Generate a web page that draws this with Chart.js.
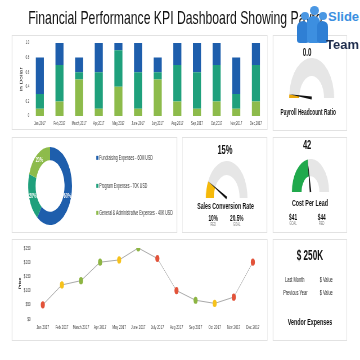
<!DOCTYPE html>
<html><head><meta charset="utf-8">
<script src="https://cdn.jsdelivr.net/npm/chart.js@4.4.1/dist/chart.umd.min.js"></script>
<style>
html,body{margin:0;padding:0;width:360px;height:360px;overflow:hidden;background:#fff;}
#stage{position:absolute;left:0;top:0;width:640px;height:360px;transform:scaleX(0.5625);transform-origin:0 0;font-family:"Liberation Sans",Arial,Helvetica,sans-serif;color:#111;}
.panel{position:absolute;box-sizing:border-box;border:1px solid #e2e2e2;background:#fff;}
.box{position:absolute;}
.t{position:absolute;white-space:nowrap;transform:translate(-50%,-50%);line-height:1;}
.b{font-weight:bold;}
.l{position:absolute;white-space:nowrap;transform:translateY(-50%);line-height:1;}
.sm{font-size:4.5px;color:#777;}
.lg{position:absolute;white-space:nowrap;transform:translateY(-50%);line-height:1;font-size:6.3px;color:#333;}
.lg i{display:inline-block;width:4px;height:4px;margin-right:1.5px;vertical-align:middle;position:relative;top:-0.5px;}
#logo{position:absolute;left:0;top:0;width:360px;height:60px;pointer-events:none;font-family:"Liberation Sans Narrow","Liberation Sans",Arial,sans-serif;}
#logo div{position:absolute;}
</style></head>
<body>
<div id="stage">
  <div id="title" class="l" style="left:50px;top:17px;font-size:19px;transform-origin:0 50%;">Financial Performance KPI Dashboard Showing Payroll Headcount Ratio</div>

  <div class="panel" style="left:21.3px;top:35px;width:455px;height:95px"></div>
  <div class="panel" style="left:485.3px;top:35px;width:131.6px;height:96px"></div>
  <div class="panel" style="left:21.3px;top:137px;width:293.4px;height:96px"></div>
  <div class="panel" style="left:323.6px;top:137px;width:151.1px;height:96px"></div>
  <div class="panel" style="left:485.3px;top:137px;width:131.6px;height:96px"></div>
  <div class="panel" style="left:21.3px;top:239px;width:455px;height:102px"></div>
  <div class="panel" style="left:485.3px;top:239px;width:131.6px;height:102px"></div>

  <div class="box" style="left:21.3px;top:35px;width:455px;height:95px"><canvas id="bar"></canvas></div>
  <div class="box" style="left:21.3px;top:239px;width:455px;height:102px"><canvas id="line"></canvas></div>
  <div class="box" style="left:50px;top:147px;width:78px;height:78px"><canvas id="donut"></canvas></div>
  <div class="box" style="left:513.8px;top:58px;width:80px;height:43px"><canvas id="g1"></canvas></div>
  <div class="box" style="left:366px;top:161px;width:74px;height:40px"><canvas id="g2"></canvas></div>
  <div class="box" style="left:519px;top:159px;width:66px;height:36px"><canvas id="g3"></canvas></div>

  <div id="legend"></div>

  <div class="t b" style="left:546px;top:52px;font-size:11px">0.0</div>
  <div class="t b" style="left:548px;top:112px;font-size:8.5px">Payroll Headcount Ratio</div>

  <div class="t b" style="left:400px;top:150px;font-size:13.5px">15%</div>
  <div class="t b" style="left:401px;top:207px;font-size:9.3px">Sales Conversion Rate</div>
  <div class="t b" style="left:379px;top:218px;font-size:8.5px">10%</div>
  <div class="t sm" style="left:379px;top:225px">RED</div>
  <div class="t b" style="left:421px;top:218px;font-size:8.5px">20.5%</div>
  <div class="t sm" style="left:421px;top:225px">GOAL</div>

  <div class="t b" style="left:546px;top:145px;font-size:13.5px">42</div>
  <div class="t b" style="left:551px;top:203px;font-size:9.5px">Cost Per Lead</div>
  <div class="t b" style="left:521px;top:217px;font-size:8.5px">$41</div>
  <div class="t sm" style="left:521px;top:224px">GOAL</div>
  <div class="t b" style="left:572px;top:217px;font-size:8.5px">$44</div>
  <div class="t sm" style="left:572px;top:224px">RED</div>

  <div class="t b" style="left:551px;top:255px;font-size:14.5px">$ 250K</div>
  <div class="t" style="left:524px;top:279px;font-size:7px;color:#222">Last Month</div>
  <div class="t" style="left:580px;top:279px;font-size:7px;color:#222">$ Value</div>
  <div class="t" style="left:525px;top:292px;font-size:7px;color:#222">Previous Year</div>
  <div class="t" style="left:580px;top:292px;font-size:7px;color:#222">$ Value</div>
  <div class="t b" style="left:551px;top:322px;font-size:9.5px">Vendor Expenses</div>
</div>

<div id="logo">
  <div style="left:323px;top:0;width:37px;height:33px;background:#fff;"></div>
  <div style="left:301px;top:12px;width:8px;height:8px;border-radius:50%;background:#4a97e3;"></div>
  <div style="left:310px;top:6px;width:9px;height:9px;border-radius:50%;background:#4a97e3;"></div>
  <div style="left:319px;top:12px;width:8px;height:8px;border-radius:50%;background:#4a97e3;"></div>
  <div style="left:297px;top:21px;width:12px;height:22px;border-radius:6px 6px 3px 3px;background:#2f7fd4;"></div>
  <div style="left:307px;top:16px;width:13px;height:27px;border-radius:6px 6px 3px 3px;background:#3d8fe0;"></div>
  <div style="left:317px;top:21px;width:11px;height:22px;border-radius:6px 6px 3px 3px;background:#2f7fd4;"></div>
  <div style="left:328px;top:10px;font-size:13px;font-weight:bold;color:#3b8fe0;line-height:1;">Slide</div>
  <div style="left:326px;top:38px;font-size:13px;font-weight:bold;color:#1f2d4d;line-height:1;">Team</div>
</div>

<script>
// ---------- data ----------
const barMonths = ['Jan,2017','Feb,2017','March,2017','Apr,2017','May,2017','June,2017','July,2017','Aug,2017','Sep,2017','Oct,2017','Nov,2017','Dec,2017'];
const barBottom = [0.1,0.2,0.5,0.1,0.4,0.1,0.5,0.2,0.1,0.2,0.1,0.2];
const barMiddle = [0.2,0.5,0.1,0.5,0.5,0.5,0.1,0.5,0.5,0.5,0.2,0.5];
const barTop    = [0.5,0.3,0.2,0.4,0.1,0.4,0.2,0.3,0.4,0.3,0.5,0.3];

const lineMonths = ['Jan 2017','Feb 2017','March 2017','Apr 2017','May 2017','June 2017','July 2017','Aug 2017','Sep 2017','Oct 2017','Nov 2017','Dec 2017'];
const priceValues = [50,120,135,200,208,250,213,100,66,55,77,200];
const priceStatus = ['red','yellow','green','green','yellow','green','red','red','green','yellow','red','red'];

const donutLabels = ['Fundraising Expenses - 60M USD','Program Expenses - 70K USD','General & Administrative Expenses - 40K USD'];
const donutShares = [60,20,20];

const payrollGauge = [3,97];
const salesGauge = [15,85];
const costGauge = [45,55];

// ---------- styles ----------
const BLUE='#1e5eac', TEAL='#1fa07c', LGREEN='#8dbb4b';
const STATUS={red:'#e2533a',yellow:'#f6c21c',green:'#8db543'};
const GRAY='#e6e6e6';
const FONT='"Liberation Sans", Arial, sans-serif';
Chart.defaults.font.family=FONT;

// title fit
(function(){
  const el=document.getElementById('title');
  const c=document.createElement('canvas').getContext('2d');
  c.font='19px '+FONT;
  const w=c.measureText('Financial Performance KPI Dashboard Showing Pa').width;
  el.style.transform='translateY(-50%) scaleX('+(493/w)+')';
})();

// legend
(function(){
  const cols=[BLUE,TEAL,LGREEN], ys=[158,186,213];
  const lg=document.getElementById('legend');
  donutLabels.forEach((t,i)=>{
    const d=document.createElement('div');
    d.className='lg'; d.style.left='171px'; d.style.top=ys[i]+'px';
    d.innerHTML='<i style="background:'+cols[i]+'"></i>';
    d.appendChild(document.createTextNode(t));
    lg.appendChild(d);
  });
})();

const noGrid={display:false,drawTicks:false};

new Chart(document.getElementById('bar'),{
  type:'bar',
  data:{labels:barMonths,datasets:[
    {data:barBottom,backgroundColor:LGREEN},
    {data:barMiddle,backgroundColor:TEAL},
    {data:barTop,backgroundColor:BLUE}]},
  options:{responsive:true,maintainAspectRatio:false,animation:false,
    plugins:{legend:{display:false},tooltip:{enabled:false}},
    layout:{padding:{top:8,right:3.6,left:0,bottom:0}},
    datasets:{bar:{barPercentage:0.41,categoryPercentage:1}},
    scales:{
      x:{stacked:true,grid:noGrid,border:{display:false},
        ticks:{font:{size:5},color:'#444',maxRotation:0,autoSkip:false,padding:5},
        afterFit(s){s.height=14;}},
      y:{stacked:true,min:0,max:1,grid:noGrid,border:{display:false},
        ticks:{stepSize:0.1,font:{size:5},color:'#444',padding:1},
        title:{display:true,text:'In Dollar',font:{size:6.5},color:'#222',padding:{top:13,bottom:0}},
        afterFit(s){s.width=32.35;}}
    }}
});

new Chart(document.getElementById('line'),{
  type:'line',
  data:{labels:lineMonths,datasets:[{data:priceValues,borderColor:'#a9a9a9',borderWidth:1,tension:0,
    pointRadius:3.6,pointBackgroundColor:priceStatus.map(s=>STATUS[s]),pointBorderColor:priceStatus.map(s=>STATUS[s]),pointBorderWidth:0}]},
  options:{responsive:true,maintainAspectRatio:false,animation:false,
    plugins:{legend:{display:false},tooltip:{enabled:false}},
    layout:{padding:{top:9,right:9.5,left:0,bottom:0}},
    scales:{
      x:{offset:true,grid:noGrid,border:{display:false},
        ticks:{font:{size:5.5},color:'#444',maxRotation:0,autoSkip:false,padding:4.7},
        afterFit(s){s.height=22;}},
      y:{min:0,max:250,grid:noGrid,border:{display:false},
        ticks:{stepSize:50,font:{size:5.5},color:'#444',padding:4.5,callback:v=>'$'+v},
        title:{display:true,text:'Price',font:{size:4.8,weight:'bold'},color:'#222',padding:{top:12,bottom:0}},
        afterFit(s){s.width=38.1;}}
    }}
});

const donutLabelPlugin={id:'dl',afterDatasetsDraw(chart){
  const ctx=chart.ctx, meta=chart.getDatasetMeta(0);
  ctx.save(); ctx.font='bold 6.5px '+FONT; ctx.fillStyle='#fff'; ctx.textAlign='center'; ctx.textBaseline='middle';
  meta.data.forEach((arc,i)=>{const p=arc.tooltipPosition(); ctx.fillText(donutShares[i]+'%',p.x,p.y);});
  ctx.restore();
}};
new Chart(document.getElementById('donut'),{
  type:'doughnut',
  data:{labels:donutLabels,datasets:[{data:donutShares,backgroundColor:[BLUE,TEAL,LGREEN],borderWidth:0}]},
  options:{responsive:true,maintainAspectRatio:false,animation:false,cutout:'66%',
    plugins:{legend:{display:false},tooltip:{enabled:false}}},
  plugins:[donutLabelPlugin]
});

const needlePlugin={id:'needle',afterDatasetsDraw(chart){
  const arc=chart.getDatasetMeta(0).data[0]; const ctx=chart.ctx;
  const a=arc.endAngle, cx=arc.x, cy=arc.y, r=arc.outerRadius;
  const tx=cx+r*Math.cos(a), ty=cy+r*Math.sin(a);
  const w=1.4, px=-Math.sin(a)*w, py=Math.cos(a)*w;
  ctx.save(); ctx.beginPath(); ctx.moveTo(cx+px,cy+py); ctx.lineTo(tx,ty); ctx.lineTo(cx-px,cy-py); ctx.closePath();
  ctx.fillStyle='#111'; ctx.fill(); ctx.restore();
}};
function gauge(id,data,color,cutout){
  new Chart(document.getElementById(id),{
    type:'doughnut',
    data:{datasets:[{data:data,backgroundColor:[color,GRAY],borderWidth:0}]},
    options:{responsive:true,maintainAspectRatio:false,animation:false,rotation:-90,circumference:180,cutout:cutout,
      layout:{padding:{bottom:3}},
      plugins:{legend:{display:false},tooltip:{enabled:false}}},
    plugins:[needlePlugin]
  });
}
gauge('g1',payrollGauge,'#e9a70c','55%');
gauge('g2',salesGauge,'#f5b90a','62%');
gauge('g3',costGauge,'#20a94c','48%');
</script>
</body></html>
